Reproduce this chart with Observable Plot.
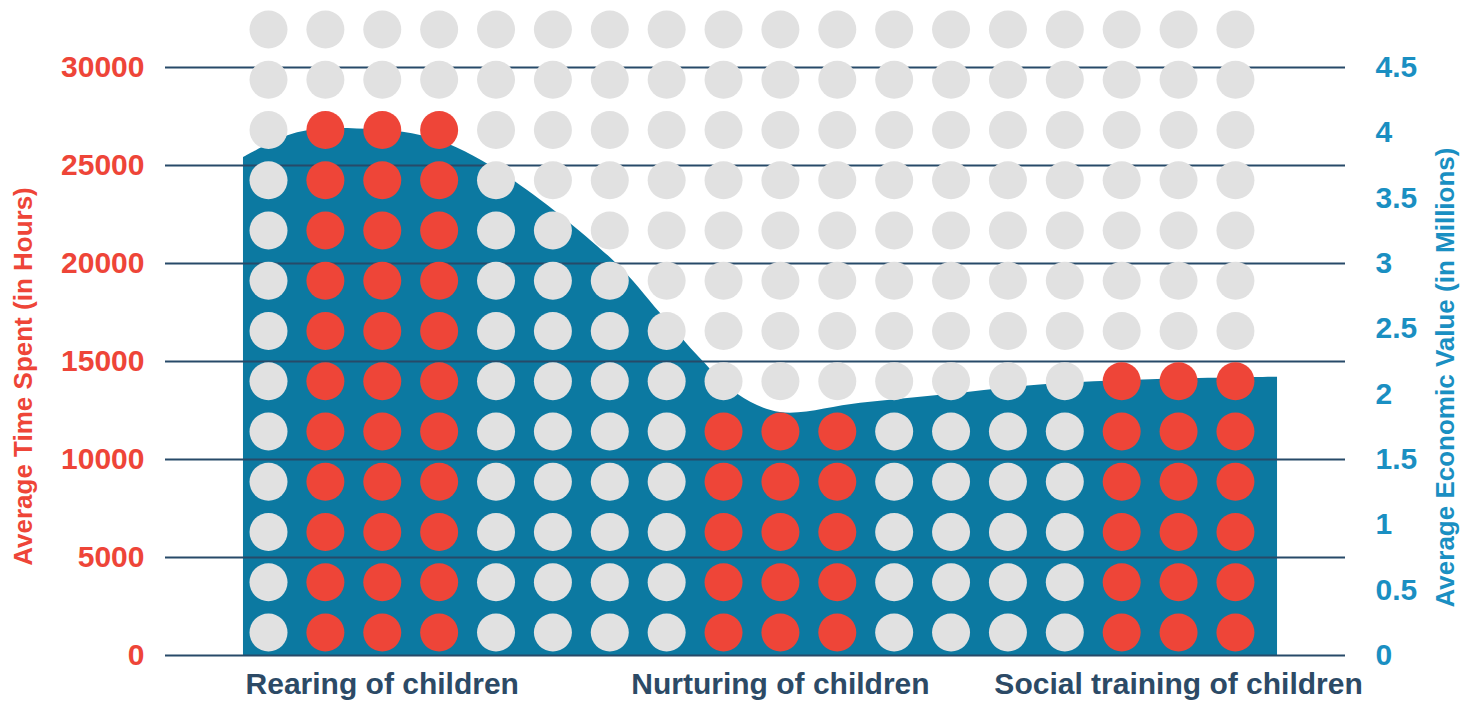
<!DOCTYPE html>
<html>
<head>
<meta charset="utf-8">
<script src="https://cdn.jsdelivr.net/npm/d3@7"></script>
<script src="https://cdn.jsdelivr.net/npm/@observablehq/plot@0.6"></script>
<style>
  html, body { margin: 0; padding: 0; background: #ffffff; }
  #chart svg { display: block; }
</style>
</head>
<body>
<div id="chart"></div>
<script>
// Activities compared on the x axis
const categories = ["Rearing of children", "Nurturing of children", "Social training of children"];
// Filled (red) dots per activity, one column triple each: average time spent
const timeDots = [11, 5, 6];

// Economic value curve: position along the dot grid (column units) and value in millions
const valuePos = [-0.44, 0.51, 1.56, 2.85, 4.08, 6.07, 6.89, 7.6, 8.25, 9.0, 10.41, 11.99, 13.57, 15.51, 17.74];
const valueMillions = [3.81, 4.0, 4.03, 3.96, 3.7, 3.02, 2.62, 2.27, 2.0, 1.86, 1.93, 2.0, 2.07, 2.11, 2.13];

// Axis ticks
const hoursTicks = [0, 5000, 10000, 15000, 20000, 25000, 30000];
const millionTicks = [0, 0.5, 1, 1.5, 2, 2.5, 3, 3.5, 4, 4.5];

// Right axis shares the hours scale: 4.5 million sits level with 30000 hours
const hoursPerMillion = 30000 / 4.5;

// Dot grid layout
const nCols = 18, nRows = 13;
const rowBase = 1173, rowStep = 2564; // row centres in hours units
const dots = [];
for (let c = 0; c < nCols; c++) {
  for (let r = 0; r < nRows; r++) {
    let filled = false;
    categories.forEach((cat, i) => {
      const centre = i * 7 + 2;
      if (Math.abs(c - centre) <= 1 && r < timeDots[i]) filled = true;
    });
    dots.push({col: c, hours: rowBase + r * rowStep, filled});
  }
}

const area = valuePos.map((p, i) => ({pos: p, hours: valueMillions[i] * hoursPerMillion}));

const RED = "#ee4538", GREY = "#e1e1e1", TEAL = "#0c79a1", GRID = "#274a69",
      BLUE = "#1a8fc2", NAVY = "#2c4a66";

const chart = Plot.plot({
  width: 1474,
  height: 701,
  marginLeft: 165,
  marginRight: 129,
  marginTop: 67,
  marginBottom: 46,
  style: {fontFamily: "'Liberation Sans', Arial, sans-serif", fontSize: "30px", fontWeight: "bold", background: "#ffffff"},
  x: {domain: [-1.811, 18.935], axis: null},
  y: {domain: [0, 30000], axis: null},
  marks: [
    Plot.areaY(area, {x: "pos", y: "hours", fill: TEAL, curve: "catmull-rom"}),
    Plot.ruleY(hoursTicks, {stroke: GRID, strokeWidth: 2}),
    Plot.dot(dots, {x: "col", y: "hours", r: 19, fill: d => d.filled ? RED : GREY, stroke: null}),
    Plot.axisY({anchor: "left", ticks: hoursTicks, tickSize: 0, tickPadding: 21, color: RED,
                tickFormat: d => String(d), label: null}),
    Plot.axisY({anchor: "right", ticks: millionTicks.map(v => v * hoursPerMillion), tickSize: 0,
                tickPadding: 30, color: BLUE, textAnchor: "start",
                tickFormat: d => String(Math.round(d / hoursPerMillion * 10) / 10), label: null}),
    Plot.axisX({ticks: [2, 9, 16], tickSize: 0, tickPadding: 17, color: NAVY,
                tickFormat: d => categories[(d - 2) / 7], label: null}),
    Plot.text(["Average Time Spent (in Hours)"], {frameAnchor: "left", textAnchor: "middle", dx: -142, dy: 15,
                rotate: -90, fill: RED, fontSize: 26, fontWeight: "bold"}),
    Plot.text(["Average Economic Value (in Millions)"], {frameAnchor: "right", textAnchor: "middle", dx: 100, dy: 16,
                rotate: -90, fill: BLUE, fontSize: 26, fontWeight: "bold"})
  ]
});
document.getElementById("chart").appendChild(chart);
</script>
</body>
</html>
